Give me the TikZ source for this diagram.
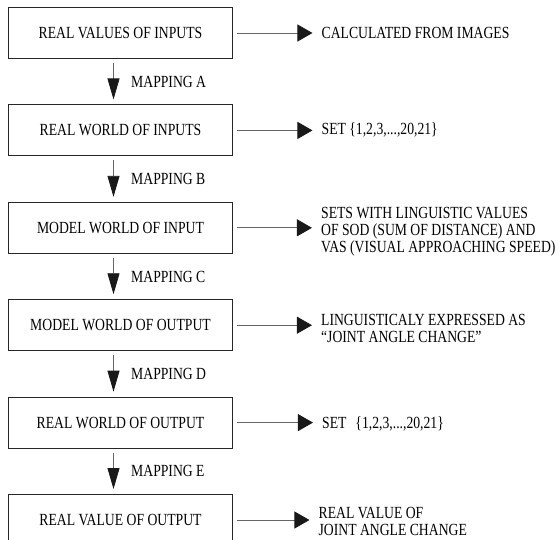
\documentclass[tikz,border=0pt]{standalone}
\usepackage{fontspec}
\setmainfont{Liberation Serif}[FakeStretch=0.805]
\usetikzlibrary{positioning,arrows.meta}

\begin{document}
\begin{tikzpicture}[x=1pt,y=1pt,node distance=45.5pt,
                    font=\fontsize{17}{17}\selectfont]
  \tikzset{box/.style={draw=black!85,line width=0.9pt,minimum width=224pt,
                       minimum height=51pt,inner sep=0pt},
           note/.style={align=left,inner sep=0pt},
           down/.style={-{Triangle[length=21pt,width=12pt,color=black!90]},
                        draw=black!60,line width=0.8pt,shorten <=4pt,shorten >=5pt},
           side/.style={-{Triangle[length=15pt,width=17pt,color=black!90]},
                        draw=black!60,line width=0.8pt,shorten <=4pt,shorten >=9pt}}
  \useasboundingbox (0,0) rectangle (559,-539);

  \node[box] (A) at (120.5,-33) {REAL VALUES OF INPUTS};
  \node[box] (B) [below=of A] {REAL WORLD OF INPUTS};
  \node[box] (C) [below=of B] {MODEL WORLD OF INPUT};
  \node[box] (D) [below=of C] {MODEL WORLD OF OUTPUT};
  \node[box] (E) [below=of D] {REAL WORLD OF OUTPUT};
  \node[box] (F) [below=of E] {REAL VALUE OF OUTPUT};

  \node[note] (a) [right=88.5pt of A.east] {CALCULATED FROM IMAGES};
  \node[note] (b) [right=88.5pt of B.east] {SET \{1,2,3,...,20,21\}};
  \node[note] (c) [right=88pt of C.east,yshift=-4pt]
       {SETS WITH LINGUISTIC VALUES\\OF SOD (SUM OF DISTANCE) AND\\VAS (VISUAL APPROACHING SPEED)};
  \node[note] (d) [right=88pt of D.east,yshift=-3pt]
       {LINGUISTICALY EXPRESSED AS\\``JOINT ANGLE CHANGE''};
  \node[note] (e) [right=89pt of E.east,yshift=-1pt] {SET\hspace{9pt}\{1,2,3,...,20,21\}};
  \node[note] (f) [right=85.5pt of F.east,yshift=-1pt]
       {REAL VALUE OF\\JOINT ANGLE CHANGE};

  % mappings down the chain
  \draw[down] ([xshift=-7pt]A.south) -- node[right=14pt] {MAPPING A} ([xshift=-7pt]B.north);
  \draw[down] ([xshift=-7pt]B.south) -- node[right=14pt] {MAPPING B} ([xshift=-7pt]C.north);
  \draw[down] ([xshift=-7pt]C.south) -- node[right=14pt] {MAPPING C} ([xshift=-7pt]D.north);
  \draw[down] ([xshift=-7pt]D.south) -- node[right=14pt] {MAPPING D} ([xshift=-7pt]E.north);
  \draw[down] ([xshift=-7pt]E.south) -- node[right=14pt] {MAPPING E} ([xshift=-7pt]F.north);

  % notes on the right
  \draw[side] (A.east) -- (A.east -| a.west);
  \draw[side] (B.east) -- (B.east -| b.west);
  \draw[side] (C.east) -- (C.east -| c.west);
  \draw[side] (D.east) -- (D.east -| d.west);
  \draw[side] (E.east) -- (E.east -| e.west);
  \draw[side] (F.east) -- (F.east -| f.west);
\end{tikzpicture}
\end{document}
